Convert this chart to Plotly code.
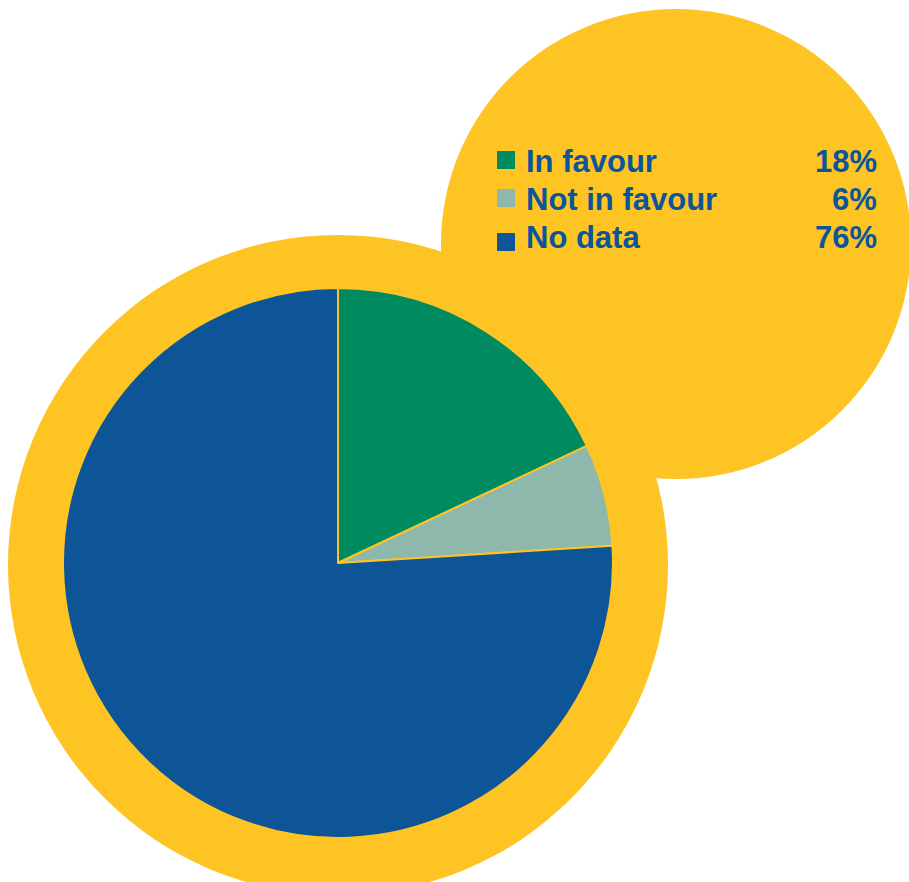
import plotly.graph_objects as go

# ---- data ----
labels = ["In favour", "Not in favour", "No data"]
values = [18, 6, 76]
colors = ["#008a5f", "#8fb8ad", "#0d5596"]

W, H = 909, 882
YELLOW = "#fdc424"
TEXT = "#0b559b"


def px(x):
    return x / W


def py(y):
    return 1 - y / H


fig = go.Figure()

# pie: centre (338, 563), radius 275 px
cx, cy, r = 338, 563, 275
fig.add_trace(go.Pie(
    labels=labels,
    values=values,
    marker=dict(colors=colors, line=dict(color=YELLOW, width=2)),
    sort=False,
    direction="clockwise",
    rotation=0,
    textinfo="none",
    hoverinfo="label+percent",
    showlegend=False,
    domain=dict(x=[px(cx - r), px(cx + r)], y=[py(cy + r), py(cy - r)]),
))

shapes = []
# big yellow disc behind the pie
bx, by, br = 338, 565, 330
shapes.append(dict(type="circle", xref="paper", yref="paper", layer="below",
                   x0=px(bx - br), x1=px(bx + br), y0=py(by + br), y1=py(by - br),
                   fillcolor=YELLOW, line=dict(width=0)))
# small yellow disc top right
sx, sy, sr = 676, 244, 235
shapes.append(dict(type="circle", xref="paper", yref="paper", layer="below",
                   x0=px(sx - sr), x1=px(sx + sr), y0=py(sy + sr), y1=py(sy - sr),
                   fillcolor=YELLOW, line=dict(width=0)))

# legend block
text_mid = [161, 200, 238]
square_mid = [160, 198, 242]
sq = 18
annotations = []
total = sum(values)
for i, (lab, val, col) in enumerate(zip(labels, values, colors)):
    shapes.append(dict(type="rect", xref="paper", yref="paper", layer="above",
                       x0=px(497), x1=px(497 + sq),
                       y0=py(square_mid[i] + sq / 2), y1=py(square_mid[i] - sq / 2),
                       fillcolor=col, line=dict(width=0)))
    annotations.append(dict(xref="paper", yref="paper", x=px(524), y=py(text_mid[i]),
                            xanchor="left", yanchor="middle", showarrow=False,
                            text=f"<b>{lab}</b>",
                            font=dict(family="Liberation Sans, Arial", size=31, color=TEXT)))
    annotations.append(dict(xref="paper", yref="paper", x=px(879), y=py(text_mid[i]),
                            xanchor="right", yanchor="middle", showarrow=False,
                            text=f"<b>{round(val / total * 100)}%</b>",
                            font=dict(family="Liberation Sans, Arial", size=31, color=TEXT)))

fig.update_layout(
    width=W, height=H,
    margin=dict(l=0, r=0, t=0, b=0),
    paper_bgcolor="white",
    plot_bgcolor="white",
    shapes=shapes,
    annotations=annotations,
    xaxis=dict(visible=False),
    yaxis=dict(visible=False),
)

fig.write_html("out.html",
               config={"displayModeBar": False},
               post_script="document.body.style.margin='0';document.body.style.overflow='hidden';")
